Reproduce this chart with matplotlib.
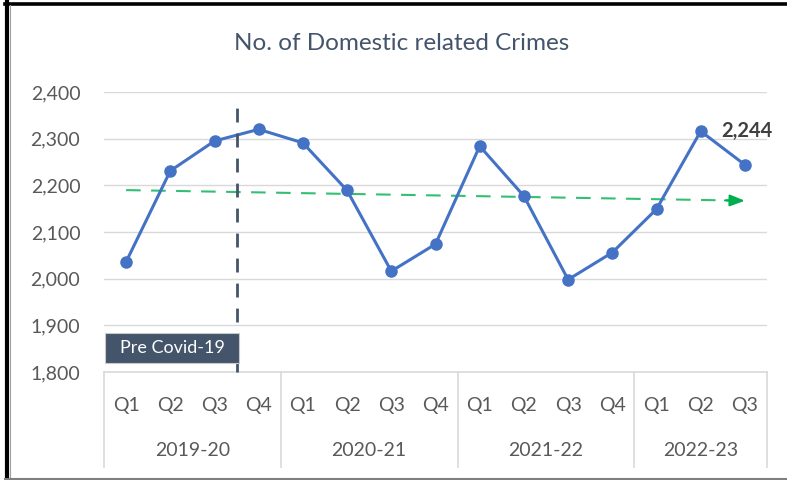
import matplotlib
matplotlib.use("Agg")
import matplotlib.pyplot as plt
from matplotlib.lines import Line2D
from matplotlib.patches import Rectangle
import numpy as np

plt.rcParams['font.family'] = ['Lato', 'DejaVu Sans']

quarters = ["Q1", "Q2", "Q3", "Q4", "Q1", "Q2", "Q3", "Q4",
            "Q1", "Q2", "Q3", "Q4", "Q1", "Q2", "Q3"]
years = ["2019-20", "2020-21", "2021-22", "2022-23"]
year_sizes = [4, 4, 4, 3]
crimes = [2036, 2231, 2295, 2320, 2291, 2189, 2016, 2074,
          2284, 2177, 1998, 2056, 2149, 2316, 2244]
y_ticks = [1800, 1900, 2000, 2100, 2200, 2300, 2400]

W, H = 787, 480
fig = plt.figure(figsize=(W / 100, H / 100), dpi=100)
fig.patch.set_facecolor("white")

left, right, top, bottom = 104, 767, 92, 372
ax = fig.add_axes([left / W, 1 - bottom / H, (right - left) / W, (bottom - top) / H])

n = len(crimes)
x = np.arange(n)
ax.set_xlim(-0.5, n - 0.5)
ax.set_ylim(1800, 2400)

# gridlines and value axis
ax.set_yticks(y_ticks)
ax.set_yticklabels([f"{v:,}" for v in y_ticks], color="#595959", fontsize=14)
ax.yaxis.grid(True, color="#D9D9D9", lw=1)
ax.set_axisbelow(True)
ax.tick_params(axis="y", length=0, pad=17)
ax.set_xticks([])
for s in ["top", "right", "left"]:
    ax.spines[s].set_visible(False)
ax.spines["bottom"].set_color("#D9D9D9")
ax.spines["bottom"].set_linewidth(1.2)

# main series
ax.plot(x, crimes, color="#4472C4", lw=2.2, marker="o", ms=8, zorder=4,
        clip_on=False)

# linear trend with arrow head
coef = np.polyfit(x, crimes, 1)
trend = np.polyval(coef, x)
ax.plot([x[0], x[-1] - 0.25], [trend[0], np.polyval(coef, x[-1] - 0.25)],
        color="#00B050", lw=1.5, ls=(0, (7, 5)), alpha=0.8, zorder=3)
ax.annotate("", xy=(x[-1], trend[-1]), xytext=(x[-1] - 0.45, np.polyval(coef, x[-1] - 0.45)),
            arrowprops=dict(arrowstyle="-|>,head_length=0.9,head_width=0.35",
                            color="#00B050", lw=1.5, shrinkA=0, shrinkB=0), zorder=3)

# pre covid divider
divider = 2.5
ax.plot([divider, divider], [1800, 2388], color="#44546A", lw=2, ls=(0, (5, 4)),
        zorder=5, clip_on=False)
ax.add_patch(Rectangle((-0.475, 1819.5), divider + 0.06 + 0.475, 64,
                       facecolor="#44546A", edgecolor="#C9C9C9", lw=0.8, zorder=6))
ax.text((-0.475 + divider + 0.06) / 2, 1851.5, "Pre Covid-19", ha="center", va="center",
        color="white", fontsize=13, zorder=7)

# value label on last point
ax.annotate(f"{crimes[-1]:,}", xy=(x[-1], crimes[-1]), xytext=(1.5, 24),
            textcoords="offset points", ha="center", va="center",
            fontsize=14.5, fontweight="bold", color="#404040", zorder=6)

# multi-level category axis
trans = ax.get_xaxis_transform()
ax_h = bottom - top
for i, q in enumerate(quarters):
    ax.text(i, -33 / ax_h, q, transform=trans, ha="center", va="center",
            color="#595959", fontsize=14)
edges = np.concatenate([[0], np.cumsum(year_sizes)]) - 0.5
for e in edges:
    ax.add_line(Line2D([e, e], [0, -95 / ax_h], transform=trans, color="#D9D9D9",
                       lw=1.2, clip_on=False))
for yname, a, b in zip(years, edges[:-1], edges[1:]):
    ax.text((a + b) / 2, -79 / ax_h, yname, transform=trans, ha="center",
            va="center", color="#595959", fontsize=14)

# title
fig.text(402 / W, 1 - 43 / H, "No. of Domestic related Crimes", ha="center",
         va="center", color="#44546A", fontsize=17.5)

# frame
fig.add_artist(Line2D([5 / W, 1], [1 - 3.5 / H] * 2, transform=fig.transFigure,
                      color="black", lw=2.6))
fig.add_artist(Line2D([7 / W] * 2, [1 - 2 / H, 1 - 478 / H], transform=fig.transFigure,
                      color="black", lw=3))
fig.add_artist(Line2D([9.5 / W] * 2, [1 - 5 / H, 1 - 478 / H], transform=fig.transFigure,
                      color="#A0A0A0", lw=0.8))
fig.add_artist(Line2D([5 / W, 1], [1 - 478.5 / H] * 2, transform=fig.transFigure,
                      color="#7F7F7F", lw=1.5))

fig.savefig("out.png", dpi=100)
